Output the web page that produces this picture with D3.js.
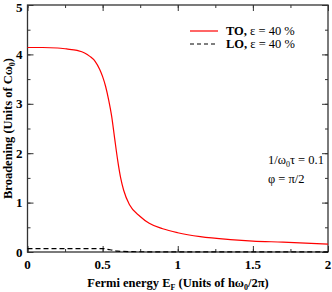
<!DOCTYPE html>
<html>
<head>
<meta charset="utf-8">
<script src="https://cdn.jsdelivr.net/npm/d3@7"></script>
<style>
body { margin: 0; background: #fff; }
</style>
</head>
<body>
<div id="showBox"></div>
<script>
// Fermi energy (units of h w0 / 2pi)
const toEnergy = [0, 0.1, 0.2, 0.26, 0.33, 0.38, 0.415, 0.45, 0.48, 0.50, 0.52, 0.54, 0.56, 0.58, 0.60, 0.62, 0.64, 0.68, 0.75, 0.81, 0.9, 1.0, 1.15, 1.35, 1.5, 1.7, 2.0]
const toBroad = [4.14, 4.14, 4.13, 4.11, 4.08, 4.03, 3.96, 3.86, 3.7, 3.55, 3.35, 3.08, 2.75, 2.3, 1.86, 1.5, 1.25, 0.95, 0.72, 0.58, 0.47, 0.39, 0.31, 0.25, 0.22, 0.2, 0.16]
const loEnergy = [0, 0.2, 0.4, 0.5, 0.55, 0.6, 0.7, 1.0, 1.5, 2.0]
const loBroad = [0.07, 0.07, 0.07, 0.07, 0.045, 0.018, 0.006, 0.003, 0.002, 0.001]
const xTicks = [0, 0.5, 1, 1.5, 2]
const yTicks = [0, 1, 2, 3, 4, 5]

const W = 332, H = 292
const m = {left: 27.5, right: 4, top: 5, bottom: 40}
const serif = "Liberation Serif"

const svg = d3.select("#showBox").append("svg")
    .attr("width", W).attr("height", H)

const x = d3.scaleLinear().domain([0, 2]).range([m.left, W - m.right])
const y = d3.scaleLinear().domain([0, 5]).range([H - m.bottom, m.top])

const line = d3.line().x(d => x(d[0])).y(d => y(d[1])).curve(d3.curveMonotoneX)

// ticks on all sides, pointing in
function ticks(axisFn, scale, transform, values, size) {
    svg.append("g")
        .attr("transform", transform)
        .call(axisFn(scale).tickValues(values).tickSize(size).tickFormat(""))
        .call(g => g.select(".domain").remove())
        .call(g => g.selectAll("line").attr("stroke", "#333"))
}
const xMinor = d3.range(0, 2.01, 0.25)
const yMinor = d3.range(0, 5.01, 0.5)
ticks(d3.axisTop, x, `translate(0,${y(0)})`, xMinor, 3)
ticks(d3.axisTop, x, `translate(0,${y(0)})`, xTicks, 6)
ticks(d3.axisBottom, x, `translate(0,${y(5)})`, xMinor, 3)
ticks(d3.axisBottom, x, `translate(0,${y(5)})`, xTicks, 6)
ticks(d3.axisRight, y, `translate(${x(0)},0)`, yMinor, 3)
ticks(d3.axisRight, y, `translate(${x(0)},0)`, yTicks, 6)
ticks(d3.axisLeft, y, `translate(${x(2)},0)`, yMinor, 3)
ticks(d3.axisLeft, y, `translate(${x(2)},0)`, yTicks, 6)

svg.append("rect")
    .attr("x", x(0)).attr("y", y(5))
    .attr("width", x(2) - x(0)).attr("height", y(0) - y(5))
    .attr("fill", "none").attr("stroke", "#333").attr("stroke-width", 1.3)

// tick labels
svg.append("g").selectAll("text")
    .data(xTicks).join("text")
    .style("font-family", serif)
    .attr("x", d => x(d)).attr("y", y(0) + 17)
    .attr("text-anchor", "middle")
    .attr("font-size", 13).attr("font-weight", "bold")
    .text(d => d)

svg.append("g").selectAll("text")
    .data(yTicks).join("text")
    .style("font-family", serif)
    .attr("x", x(0) - 5).attr("y", d => Math.max(y(d), 7))
    .attr("dy", "0.35em")
    .attr("text-anchor", "end")
    .attr("font-size", 13).attr("font-weight", "bold")
    .text(d => d)

// series
svg.append("path")
    .attr("d", line(d3.zip(toEnergy, toBroad)))
    .attr("fill", "none").attr("stroke", "#ff0000").attr("stroke-width", 1.2)

svg.append("path")
    .attr("d", line(d3.zip(loEnergy, loBroad)))
    .attr("fill", "none").attr("stroke", "#000").attr("stroke-width", 1.2)
    .attr("stroke-dasharray", "5,3")

// axis titles
const xt = svg.append("text")
    .style("font-family", serif)
    .attr("x", 178).attr("y", 287)
    .attr("text-anchor", "middle")
    .attr("font-size", 12.5).attr("font-weight", "bold")
xt.append("tspan").text("Fermi energy E")
xt.append("tspan").attr("font-size", 8).attr("dy", 3).text("F")
xt.append("tspan").attr("dy", -3).text(" (Units of hω")
xt.append("tspan").attr("font-size", 8).attr("dy", 3).text("0")
xt.append("tspan").attr("dy", -3).text("/2π)")

const yt = svg.append("text")
    .style("font-family", serif)
    .attr("transform", `translate(12,${(y(0) + y(5)) / 2}) rotate(-90)`)
    .attr("text-anchor", "middle")
    .attr("font-size", 12.5).attr("font-weight", "bold")
yt.append("tspan").text("Broadening (Units of Cω")
yt.append("tspan").attr("font-size", 8).attr("dy", 3).text("0")
yt.append("tspan").attr("dy", -3).text(")")

// legend
const legend = [
    {name: "TO,", color: "#ff0000", dash: null, yy: 31},
    {name: "LO,", color: "#000", dash: "4,3", yy: 44}
]
legend.forEach(l => {
    svg.append("line")
        .attr("x1", 190).attr("x2", 218).attr("y1", l.yy).attr("y2", l.yy)
        .attr("stroke", l.color).attr("stroke-width", 1.2)
        .attr("stroke-dasharray", l.dash)
    const t = svg.append("text")
        .style("font-family", serif)
        .attr("x", 226).attr("y", l.yy).attr("dy", "0.35em")
        .attr("font-size", 12.5)
    t.append("tspan").attr("font-weight", "bold").text(l.name)
    t.append("tspan").text(" ε = 40 %")
})

// annotations
const a1 = svg.append("text").style("font-family", serif)
    .attr("x", 268).attr("y", 164).attr("font-size", 12.5)
a1.append("tspan").text("1/ω")
a1.append("tspan").attr("font-size", 8).attr("dy", 3).text("0")
a1.append("tspan").attr("dy", -3).text("τ = 0.1")
svg.append("text").style("font-family", serif)
    .attr("x", 268).attr("y", 183).attr("font-size", 12.5).text("φ = π/2")
</script>
</body>
</html>
